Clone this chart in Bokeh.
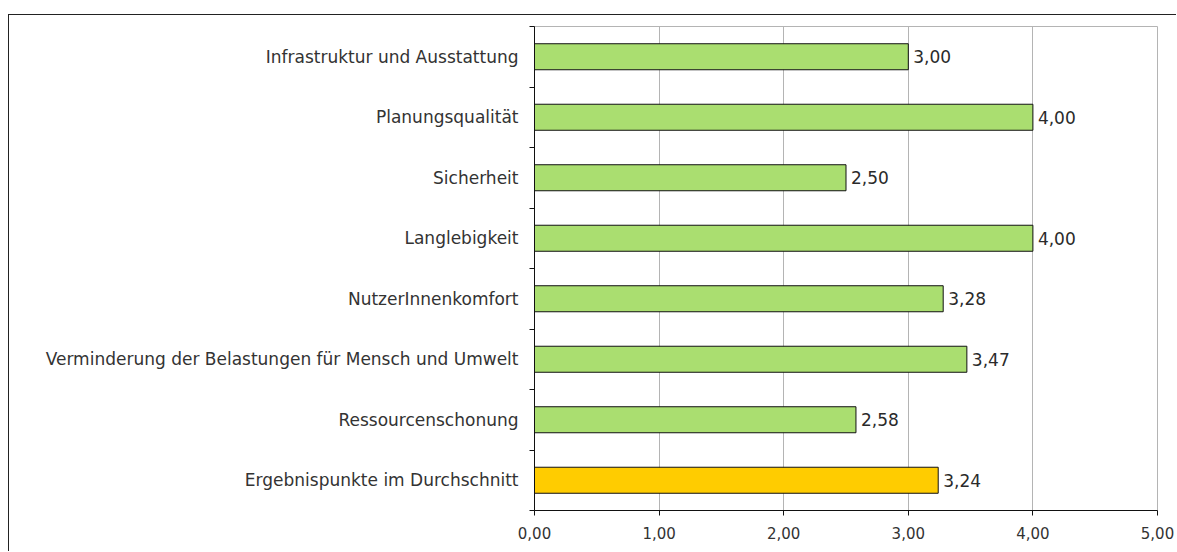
from bokeh.plotting import figure
from bokeh.models import FixedTicker, ColumnDataSource, Range1d
from bokeh.embed import file_html
from bokeh.resources import INLINE
from bokeh.core.properties import value

categories = [
    "Infrastruktur und Ausstattung",
    "Planungsqualität",
    "Sicherheit",
    "Langlebigkeit",
    "NutzerInnenkomfort",
    "Verminderung der Belastungen für Mensch und Umwelt",
    "Ressourcenschonung",
    "Ergebnispunkte im Durchschnitt",
]
scores = [3.00, 4.00, 2.50, 4.00, 3.28, 3.47, 2.58, 3.24]
bar_colors = ["#AADE70"] * 7 + ["#FFCC00"]
x_ticks = [0, 1, 2, 3, 4, 5]
x_tick_labels = ["0,00", "1,00", "2,00", "3,00", "4,00", "5,00"]

n = len(categories)
ypos = [n - i - 0.5 for i in range(n)]
val_labels = [f"{v:.2f}".replace(".", ",") for v in scores]

src = ColumnDataSource(dict(y=ypos, v=scores, c=bar_colors, lab=val_labels))

p = figure(
    width=1168, height=537,
    x_range=Range1d(0, 5), y_range=Range1d(0, n),
    output_backend="svg", toolbar_location=None,
    min_border_left=525, min_border_right=20,
    min_border_top=11, min_border_bottom=42,
)
p.styles = {
    "border-top": "1px solid #222",
    "border-left": "1px solid #222",
    "margin-left": "8px",
    "margin-top": "14px",
}

p.hbar(y="y", right="v", left=0, height=0.43, fill_color="c",
       line_color="#111111", line_width=1, source=src)
p.text(x="v", y="y", text="lab", source=src, x_offset=5,
       text_align="left", text_baseline="middle",
       text_font=value("DejaVu Sans"), text_font_size="17px",
       text_color="#2a2a2a")

# x axis
p.xaxis.ticker = FixedTicker(ticks=x_ticks)
p.xaxis.major_label_overrides = {t: l for t, l in zip(x_ticks, x_tick_labels)}
p.xaxis.axis_line_color = "#111111"
p.xaxis.major_tick_line_color = "#111111"
p.xaxis.major_tick_in = 0
p.xaxis.major_tick_out = 5
p.xaxis.minor_tick_line_color = None
p.xaxis.major_label_text_font = "DejaVu Sans"
p.xaxis.major_label_text_font_size = "15px"
p.xaxis.major_label_text_color = "#333333"
p.xaxis.major_label_standoff = 11

# y axis: labels at centres, ticks at category boundaries
p.yaxis.ticker = FixedTicker(ticks=ypos, minor_ticks=list(range(n + 1)))
p.yaxis.major_label_overrides = {y: c for y, c in zip(ypos, categories)}
p.yaxis.axis_line_color = "#111111"
p.yaxis.major_tick_line_color = None
p.yaxis.minor_tick_line_color = "#111111"
p.yaxis.minor_tick_in = 0
p.yaxis.minor_tick_out = 5
p.yaxis.major_label_text_font = "DejaVu Sans"
p.yaxis.major_label_text_font_size = "17px"
p.yaxis.major_label_text_color = "#333333"
p.yaxis.major_label_standoff = 10

p.xgrid.ticker = FixedTicker(ticks=x_ticks)
p.xgrid.grid_line_color = "#B4B4B4"
p.ygrid.grid_line_color = None
p.outline_line_color = "#B4B4B4"
p.background_fill_color = "white"
p.border_fill_color = "white"

open("out.html", "w").write(file_html(p, INLINE))
